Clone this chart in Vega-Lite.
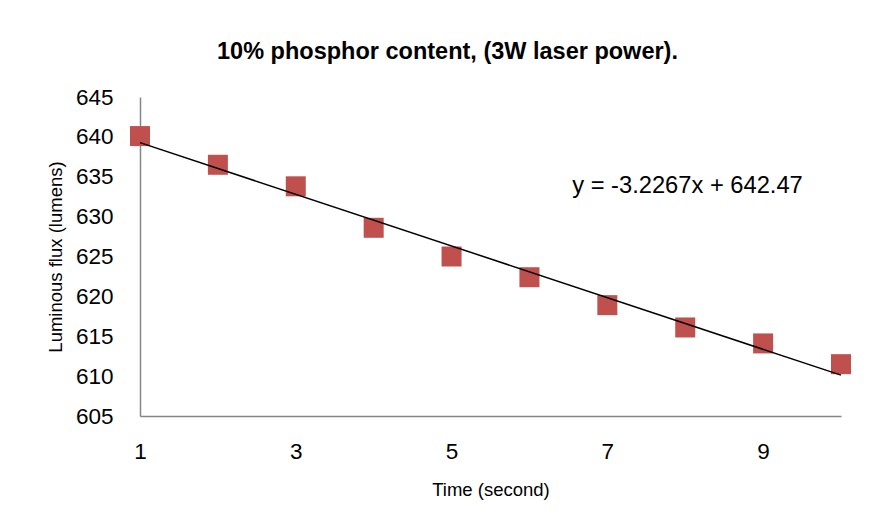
{
  "$schema": "https://vega.github.io/schema/vega-lite/v6.json",
  "autosize": "none",
  "width": 701,
  "height": 319,
  "padding": {"left": 140, "top": 97, "right": 31, "bottom": 111},
  "background": "white",
  "datasets": {
    "points": [
      {"time": 1, "flux": 640.1},
      {"time": 2, "flux": 636.5},
      {"time": 3, "flux": 633.8},
      {"time": 4, "flux": 628.6},
      {"time": 5, "flux": 625.0},
      {"time": 6, "flux": 622.4},
      {"time": 7, "flux": 618.9},
      {"time": 8, "flux": 616.1},
      {"time": 9, "flux": 614.1},
      {"time": 10, "flux": 611.5}
    ],
    "equation": [
      {"time": 6.55, "flux": 633.8, "label": "y = -3.2267x + 642.47"}
    ]
  },
  "title": {
    "text": "10% phosphor content, (3W laser power).",
    "font": "Liberation Sans",
    "fontSize": 23.5,
    "fontWeight": "bold",
    "color": "black",
    "anchor": "middle",
    "dx": -43,
    "offset": 23
  },
  "config": {
    "view": {"stroke": null},
    "axis": {
      "grid": false,
      "ticks": false,
      "domainColor": "#868686",
      "domainWidth": 1.5,
      "labelColor": "black",
      "labelFont": "Liberation Sans",
      "labelFontSize": 22.5,
      "labelOverlap": false,
      "labelFlush": false,
      "titleFont": "Liberation Sans",
      "titleFontSize": 18.5,
      "titleFontWeight": "normal",
      "titleColor": "black"
    }
  },
  "layer": [
    {
      "data": {"name": "points"},
      "mark": {"type": "square", "size": 400, "color": "#C0504D", "opacity": 1},
      "encoding": {
        "x": {
          "field": "time", "type": "quantitative",
          "scale": {"domain": [1, 10], "nice": false, "zero": false},
          "axis": {"values": [1, 3, 5, 7, 9], "tickCount": 10, "format": "d", "title": "Time (second)", "labelPadding": 24, "titlePadding": 18, "labelOverlap": false, "labelFlush": false}
        },
        "y": {
          "field": "flux", "type": "quantitative",
          "scale": {"domain": [605, 645], "nice": false, "zero": false},
          "axis": {"values": [605, 610, 615, 620, 625, 630, 635, 640, 645], "tickCount": 12, "format": "d", "title": "Luminous flux (lumens)", "labelPadding": 27, "titlePadding": 10, "labelOverlap": false, "labelFlush": false}
        }
      }
    },
    {
      "data": {"name": "points"},
      "transform": [{"regression": "flux", "on": "time", "extent": [1, 10]}],
      "mark": {"type": "line", "color": "black", "strokeWidth": 1.5},
      "encoding": {
        "x": {"field": "time", "type": "quantitative"},
        "y": {"field": "flux", "type": "quantitative"}
      }
    },
    {
      "data": {"name": "equation"},
      "mark": {"type": "text", "align": "left", "baseline": "middle", "font": "Liberation Sans", "fontSize": 23.7, "color": "black"},
      "encoding": {
        "x": {"field": "time", "type": "quantitative"},
        "y": {"field": "flux", "type": "quantitative"},
        "text": {"field": "label"}
      }
    }
  ]
}
